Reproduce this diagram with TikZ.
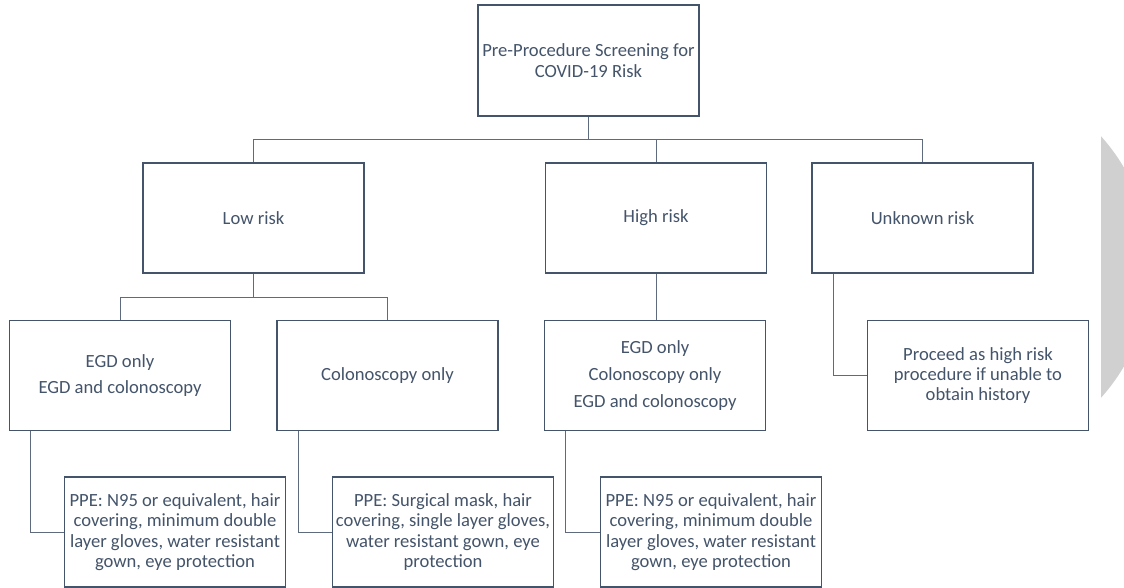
\documentclass[tikz,border=0pt]{standalone}
\usepackage{fontspec}
\setmainfont{Carlito}
\definecolor{slate}{HTML}{44546A}
\definecolor{conngray}{HTML}{5E6B7E}
\definecolor{greyfill}{HTML}{D0D0D0}
\begin{document}
\begin{tikzpicture}[x=1pt,y=-1pt,
  box/.style={draw=slate,line width=1.9pt,fill=white,text=slate,align=center,
    minimum width=221pt,inner sep=2pt,font=\fontsize{18.6}{20.3}\selectfont},
  tall/.style={box,minimum height=110pt},
  conn/.style={draw=conngray,line width=1pt}]
\useasboundingbox (0,0) rectangle (1124,588);
% partial grey shape at the right edge
\begin{scope}
  \clip (1101,0) rectangle (1124,588);
  \fill[greyfill] (955,267) circle[radius=196];
\end{scope}
% nodes
\node[tall,minimum height=111pt] (top) at (588.5,60.5) {Pre-Procedure Screening for\\COVID-19 Risk};
\node[tall] (low) at (253.5,218) {Low risk};
\node[tall] (high) at (656,218) {High risk};
\node[tall] (unk) at (922.5,218) {Unknown risk};
\node[tall] (egd1) at (120,375.5) {EGD only\\[6pt]EGD and colonoscopy};
\node[tall] (colon) at (387.5,375.5) {Colonoscopy only};
\node[tall] (egd3) at (655,375.5) {EGD only\\[7pt]Colonoscopy only\\[6pt]EGD and colonoscopy};
\node[tall] (proc) at (978,375.5) {Proceed as high risk\\procedure if unable to\\obtain history};
\node[tall] (ppe1) at (175,532) {PPE: N95 or equivalent, hair\\covering, minimum double\\layer gloves, water resistant\\gown, eye protection};
\node[tall] (ppe2) at (443,532) {PPE: Surgical mask, hair\\covering, single layer gloves,\\water resistant gown, eye\\protection};
\node[tall] (ppe3) at (711,532) {PPE: N95 or equivalent, hair\\covering, minimum double\\layer gloves, water resistant\\gown, eye protection};
% connectors
\draw[conn] (top.south) -- ++(0,23) coordinate (j1);
\draw[conn] (low.north) |- (j1);
\draw[conn] (high.north) |- (j1);
\draw[conn] (unk.north) |- (j1);
\draw[conn] (low.south) -- ++(0,24) coordinate (j2);
\draw[conn] (egd1.north) |- (j2);
\draw[conn] (colon.north) |- (j2);
\draw[conn] (high.south) -- (high.south |- egd3.north);
\draw[conn] ([xshift=22pt]egd1.south west) |- (ppe1.west);
\draw[conn] ([xshift=22pt]colon.south west) |- (ppe2.west);
\draw[conn] ([xshift=22pt]egd3.south west) |- (ppe3.west);
\draw[conn] ([xshift=22pt]unk.south west) |- (proc.west);
\end{tikzpicture}
\end{document}
